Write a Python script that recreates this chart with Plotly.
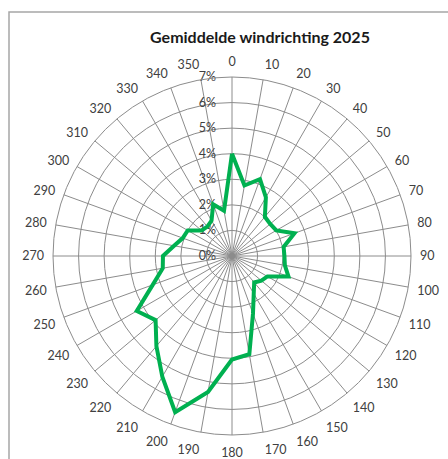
import plotly.graph_objects as go

# ---- data ----
directions = list(range(0, 360, 10))
percentages = [4.0, 2.8, 3.2, 2.65, 2.0, 1.95, 2.0, 2.6, 2.05, 2.05,
               2.1, 2.35, 1.6, 1.5, 1.35, 1.7, 2.4, 3.9, 4.05, 5.4,
               6.5, 5.45, 4.6, 3.9, 4.3, 3.3, 2.75, 2.7, 2.3, 2.05,
               2.0, 1.55, 1.5, 1.6, 2.15, 1.8]
radial_ticks = [0, 1, 2, 3, 4, 5, 6, 7]
radial_labels = [f"{v}%" for v in radial_ticks]
direction_labels = [str(d) for d in directions]
title_text = "Gemiddelde windrichting 2025"

W, H = 448, 459
cx, cy, R = 232, 256, 179

fig = go.Figure(go.Scatterpolar(
    r=percentages + [percentages[0]],
    theta=directions + [directions[0]],
    mode="lines",
    line=dict(color="#00B050", width=4),
    hoverinfo="skip",
    showlegend=False,
))

grid = "#8c8c8c"
fig.update_layout(
    width=W, height=H,
    margin=dict(l=0, r=0, t=0, b=0),
    paper_bgcolor="white",
    font=dict(family="Lato, Open Sans, sans-serif", size=12.5, color="#404040"),
    title=dict(text=f"<b>{title_text}</b>", x=260 / W, xanchor="center",
               y=1 - 37 / H, yanchor="middle",
               font=dict(size=16, color="#1a1a1a", family="Lato, Open Sans, sans-serif")),
    polar=dict(
        domain=dict(x=[(cx - R) / W, (cx + R) / W],
                    y=[(H - cy - R) / H, (H - cy + R) / H]),
        bgcolor="white",
        radialaxis=dict(range=[0, 7], tickvals=radial_ticks, ticktext=radial_labels,
                        angle=90, tickangle=90, showline=False,
                        ticks="outside", ticklen=11, tickcolor="rgba(0,0,0,0)",
                        gridcolor=grid, gridwidth=1, side="counterclockwise",
                        layer="below traces",
                        tickfont=dict(size=12.5, color="#404040")),
        angularaxis=dict(rotation=90, direction="clockwise",
                         tickvals=directions, ticktext=direction_labels,
                         showline=True, linecolor=grid, linewidth=1,
                         gridcolor=grid, gridwidth=1,
                         ticks="outside", ticklen=6, tickcolor="rgba(0,0,0,0)",
                         tickfont=dict(size=12.5, color="#404040")),
    ),
    shapes=[dict(type="rect", xref="paper", yref="paper",
                 x0=9 / W, x1=1.02, y0=-0.02, y1=1 - 12 / H,
                 line=dict(color="#a6a6a6", width=1.5))],
)

fig.write_html("out.html", config={"displayModeBar": False},
               post_script="document.body.style.margin='0';")
